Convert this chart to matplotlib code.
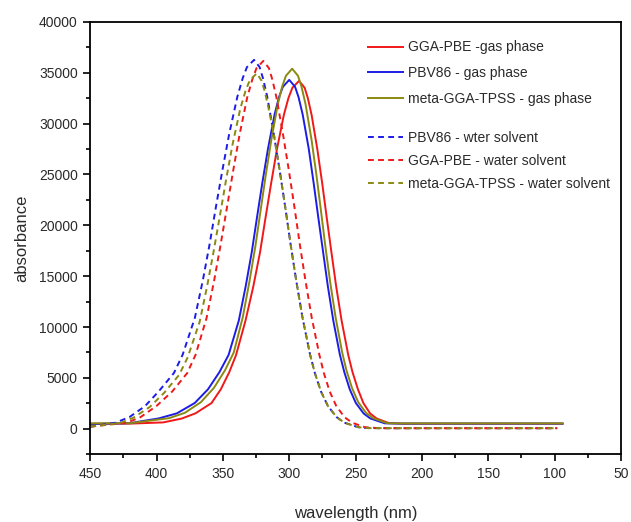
import matplotlib
matplotlib.use("Agg")
import matplotlib.pyplot as plt
from matplotlib.ticker import MultipleLocator

plt.rcParams['font.family'] = ['Liberation Sans', 'DejaVu Sans']

# GGA-PBE gas phase (red, solid)
pbe_gas_wl = [450, 420, 395, 381, 370.7, 358.6, 351.6, 345.2, 340.1, 333.0, 327.1, 322.0, 317.9, 313.7,
              309.3, 304.1, 300.6, 297.6, 292.6, 288.4, 286.0, 283.1, 278.8, 275.1, 271.7, 268.2, 264.6,
              260.5, 255.5, 252.3, 248.2, 244.1, 239.1, 234.1, 225, 215, 150, 94]
pbe_gas_abs = [500, 500, 620, 1000, 1510, 2520, 3870, 5560, 7240, 10610, 13980, 17350, 20720, 24090,
               27460, 30830, 32520, 33530, 34200, 33530, 32520, 30830, 27460, 24090, 20720, 17350, 13980,
               10610, 7240, 5560, 3870, 2520, 1510, 1000, 560, 500, 500, 500]

# PBV86 gas phase (blue, solid)
pbv_gas_wl = [450, 420, 398.5, 384.7, 371.2, 361.2, 352.6, 345.7, 338.0, 332.8, 328.2, 324.3, 320.3,
              316.0, 311.0, 307.7, 304.8, 300, 295.6, 293.0, 289.9, 285.3, 281.6, 278.1, 274.5, 270.9,
              266.8, 261.8, 258.5, 254.4, 249.8, 244.0, 238.9, 228, 215, 150, 94]
pbv_gas_abs = [450, 550, 1010, 1510, 2530, 3880, 5570, 7260, 10640, 14020, 17400, 20780, 24160,
               27540, 30920, 32610, 33620, 34300, 33620, 32610, 30920, 27540, 24160, 20780, 17400, 14020,
               10640, 7260, 5570, 3880, 2530, 1510, 1010, 530, 500, 500, 500]

# meta-GGA-TPSS gas phase (olive, solid)
tpss_gas_wl = [450, 420, 390.5, 378.6, 366.6, 356.8, 348.4, 341.8, 335.0, 330.0, 325.5, 321.6, 317.7,
               313.5, 308.6, 305.3, 302.5, 297.8, 293.4, 290.8, 287.7, 283.2, 279.5, 276.1, 272.8, 269.2,
               265.1, 260.1, 256.9, 252.7, 248.0, 242.2, 236.9, 226, 215, 150, 94]
tpss_gas_abs = [520, 540, 1040, 1570, 2610, 4010, 5750, 7500, 10980, 14470, 17960, 21450, 24940,
                28420, 31910, 33660, 34700, 35400, 34700, 33660, 31910, 28420, 24940, 21450, 17960, 14470,
                10980, 7500, 5750, 4010, 2610, 1570, 1040, 540, 520, 520, 520]

# PBV86 water solvent (blue, dashed)
pbv_wat_wl = [450, 431.0, 420.5, 408.7, 398.4, 386.9, 380.3, 371.1, 365.2, 360.0, 355.3, 350.4, 345.2,
              339.1, 335.1, 331.9, 326.5, 322.3, 319.8, 316.6, 311.7, 307.2, 303.0, 299.0, 294.7, 290.0,
              284.3, 280.7, 276.1, 270.8, 264.3, 258.4, 248, 240, 225, 150, 98]
pbv_wat_abs = [200, 590, 1140, 2220, 3670, 5480, 7290, 10920, 14540, 18160, 21780, 25400, 29030,
               32650, 34460, 35550, 36270, 35550, 34460, 32650, 29030, 25400, 21780, 18160, 14540, 10920,
               7290, 5480, 3670, 2220, 1140, 590, 150, 60, 50, 50, 50]

# GGA-PBE water solvent (red, dashed)
pbe_wat_wl = [450, 422.5, 412.2, 400.2, 388.2, 376.9, 370.6, 362.3, 356.7, 351.7, 347.0, 342.3, 337.4,
              331.7, 327.8, 324.7, 319.5, 315.3, 312.8, 309.6, 304.7, 300.2, 296.0, 292.0, 287.7, 283.0,
              277.3, 273.9, 269.5, 264.5, 258.3, 252.6, 243, 233, 220, 150, 98]
pbe_wat_abs = [200, 590, 1130, 2220, 3660, 5470, 7270, 10890, 14500, 18110, 21720, 25330, 28950,
               32560, 34360, 35450, 36170, 35450, 34360, 32560, 28950, 25330, 21720, 18110, 14500, 10890,
               7270, 5470, 3660, 2220, 1130, 590, 150, 60, 50, 50, 50]

# meta-GGA-TPSS water solvent (olive, dashed)
tpss_wat_wl = [450, 427.2, 417.2, 405.1, 394.2, 383.0, 376.5, 367.5, 361.9, 356.9, 352.2, 347.6, 342.7,
               336.9, 333.0, 329.8, 324.5, 321.0, 318.5, 315.5, 311.7, 307.2, 303.0, 299.0, 294.7, 290.0,
               284.3, 280.7, 276.1, 270.8, 264.3, 258.4, 248, 240, 225, 150, 98]
tpss_wat_abs = [200, 570, 1100, 2140, 3540, 5290, 7030, 10520, 14010, 17500, 20990, 24480, 27970,
                31460, 33200, 34250, 34950, 34250, 33200, 31460, 29030, 25400, 21780, 18160, 14540, 10920,
                7290, 5480, 3670, 2220, 1140, 590, 150, 60, 50, 50, 50]

red = '#f01818'
blue = '#1c1ce6'
olive = '#8a8a12'
dash = (0, (3, 2.2))

fig = plt.figure(figsize=(6.31, 5.22), dpi=100)
ax = fig.add_axes([0.143, 0.130, 0.841, 0.828])

l1, = ax.plot(pbe_gas_wl, pbe_gas_abs, color=red, lw=1.4, label='GGA-PBE -gas phase')
l2, = ax.plot(pbv_gas_wl, pbv_gas_abs, color=blue, lw=1.4, label='PBV86 - gas phase')
l3, = ax.plot(tpss_gas_wl, tpss_gas_abs, color=olive, lw=1.4, label='meta-GGA-TPSS - gas phase')
l4, = ax.plot(pbv_wat_wl, pbv_wat_abs, color=blue, lw=1.4, ls=dash, label='PBV86 - wter solvent')
l5, = ax.plot(pbe_wat_wl, pbe_wat_abs, color=red, lw=1.4, ls=dash, label='GGA-PBE - water solvent')
l6, = ax.plot(tpss_wat_wl, tpss_wat_abs, color=olive, lw=1.4, ls=dash, label='meta-GGA-TPSS - water solvent')

ax.set_xlim(450, 50)
ax.set_ylim(-2500, 40000)
ax.xaxis.set_major_locator(MultipleLocator(50))
ax.xaxis.set_minor_locator(MultipleLocator(25))
ax.yaxis.set_major_locator(MultipleLocator(5000))
ax.yaxis.set_minor_locator(MultipleLocator(2500))
ax.tick_params(which='major', direction='out', length=5, width=1.2, labelsize=10, labelcolor='#2a2a2a', pad=4)
ax.tick_params(which='minor', direction='out', length=3, width=1.2)
for s in ax.spines.values():
    s.set_linewidth(1.3)

ax.set_xlabel('wavelength (nm)', fontsize=12, color='#2a2a2a', labelpad=18)
ax.set_ylabel('absorbance', fontsize=12, color='#2a2a2a', labelpad=7)

leg1 = ax.legend(handles=[l1, l2, l3], loc='upper left', bbox_to_anchor=(368 / 631, 1 - 40.5 / 522),
                 bbox_transform=fig.transFigure, frameon=False, fontsize=10, handlelength=2.5,
                 handletextpad=0.35, labelspacing=0.85, borderpad=0, borderaxespad=0, labelcolor='#2a2a2a')
ax.add_artist(leg1)
ax.legend(handles=[l4, l5, l6], loc='upper left', bbox_to_anchor=(368 / 631, 1 - 130.5 / 522),
          bbox_transform=fig.transFigure, frameon=False, fontsize=10, handlelength=2.5,
          handletextpad=0.35, labelspacing=0.65, borderpad=0, borderaxespad=0, labelcolor='#2a2a2a')

fig.savefig('out.png', dpi=100)
